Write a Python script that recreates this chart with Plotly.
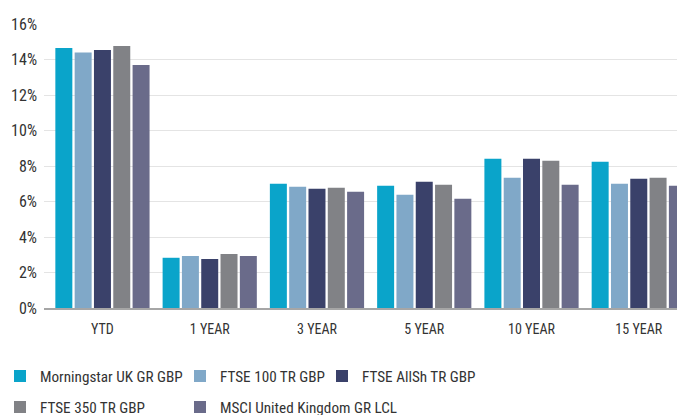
import plotly.graph_objects as go

categories = ["YTD", "1 YEAR", "3 YEAR", "5 YEAR", "10 YEAR", "15 YEAR"]
series_names = ["Morningstar UK GR GBP", "FTSE 100 TR GBP", "FTSE AllSh TR GBP",
                "FTSE 350 TR GBP", "MSCI United Kingdom GR LCL"]
morningstar = [14.65, 2.83, 7.00, 6.89, 8.41, 8.24]
ftse100 = [14.39, 2.93, 6.83, 6.38, 7.34, 7.00]
ftse_allsh = [14.54, 2.76, 6.72, 7.11, 8.41, 7.28]
ftse350 = [14.76, 3.04, 6.78, 6.95, 8.30, 7.34]
msci_uk = [13.69, 2.93, 6.55, 6.16, 6.95, 6.89]
y_ticks = [0, 2, 4, 6, 8, 10, 12, 14, 16]
y_tick_labels = ["0%", "2%", "4%", "6%", "8%", "10%", "12%", "14%", "16%"]

values = [morningstar, ftse100, ftse_allsh, ftse350, msci_uk]
colors = ["#0aa4ca", "#80a8c8", "#3a416a", "#818286", "#6a6b8a"]
legend_ids = ["legend", "legend2", "legend3", "legend4", "legend5"]

FONT = "Liberation Sans Narrow, Arial Narrow, Roboto Condensed, Liberation Sans, Arial, sans-serif"

fig = go.Figure()
for name, vals, col, lg in zip(series_names, values, colors, legend_ids):
    fig.add_trace(go.Bar(x=categories, y=vals, name=name, marker_color=col,
                         marker_line_width=0, legend=lg))

# page body has an 8px default margin; work in figure pixels (page - 8)
OFF = 8
W, H = 685 - OFF, 415 - OFF
PLOT_BOTTOM = 308
L, R, T = 44 - OFF, 0, 24 - OFF
B = H - (PLOT_BOTTOM - OFF)
pw = W - L - R
ph = H - T - B

def px_x(p):
    return (p - OFF - L) / pw

def px_y(p):
    return (PLOT_BOTTOM - p) / ph

legend_common = dict(font=dict(family=FONT, size=15.2, color="#333333"),
                     bgcolor="rgba(0,0,0,0)", borderwidth=0,
                     xanchor="left", yanchor="middle", orientation="h")
pos = [(0, 376), (180, 376), (322, 376), (0, 407), (180, 407)]
layout_legends = {}
for lg, (lx, ly) in zip(legend_ids, pos):
    layout_legends[lg] = dict(x=px_x(lx), y=px_y(ly), **legend_common)

fig.update_layout(
    width=W, height=H,
    margin=dict(l=L, r=R, t=T, b=B, pad=0, autoexpand=False),
    paper_bgcolor="white", plot_bgcolor="white",
    barmode="group", bargap=0.1, bargroupgap=0.12,
    font=dict(family=FONT, size=14, color="#333333"),
    showlegend=True,
    **layout_legends,
)
fig.update_xaxes(range=[-0.545, 5.431], showgrid=False, showline=True,
                 linecolor="#a6a6a6", linewidth=2, ticks="", automargin=False,
                 ticklabelstandoff=7,
                 tickfont=dict(family=FONT, size=14, color="#333333"))
fig.update_yaxes(range=[0, 16], tickvals=y_ticks, ticktext=y_tick_labels,
                 showgrid=True, gridcolor="#e4e4e4", gridwidth=1, automargin=False,
                 zeroline=False, showline=False, ticks="", ticklabelstandoff=6,
                 tickfont=dict(family=FONT, size=16, color="#333333"))

fig.write_html("out.html")
